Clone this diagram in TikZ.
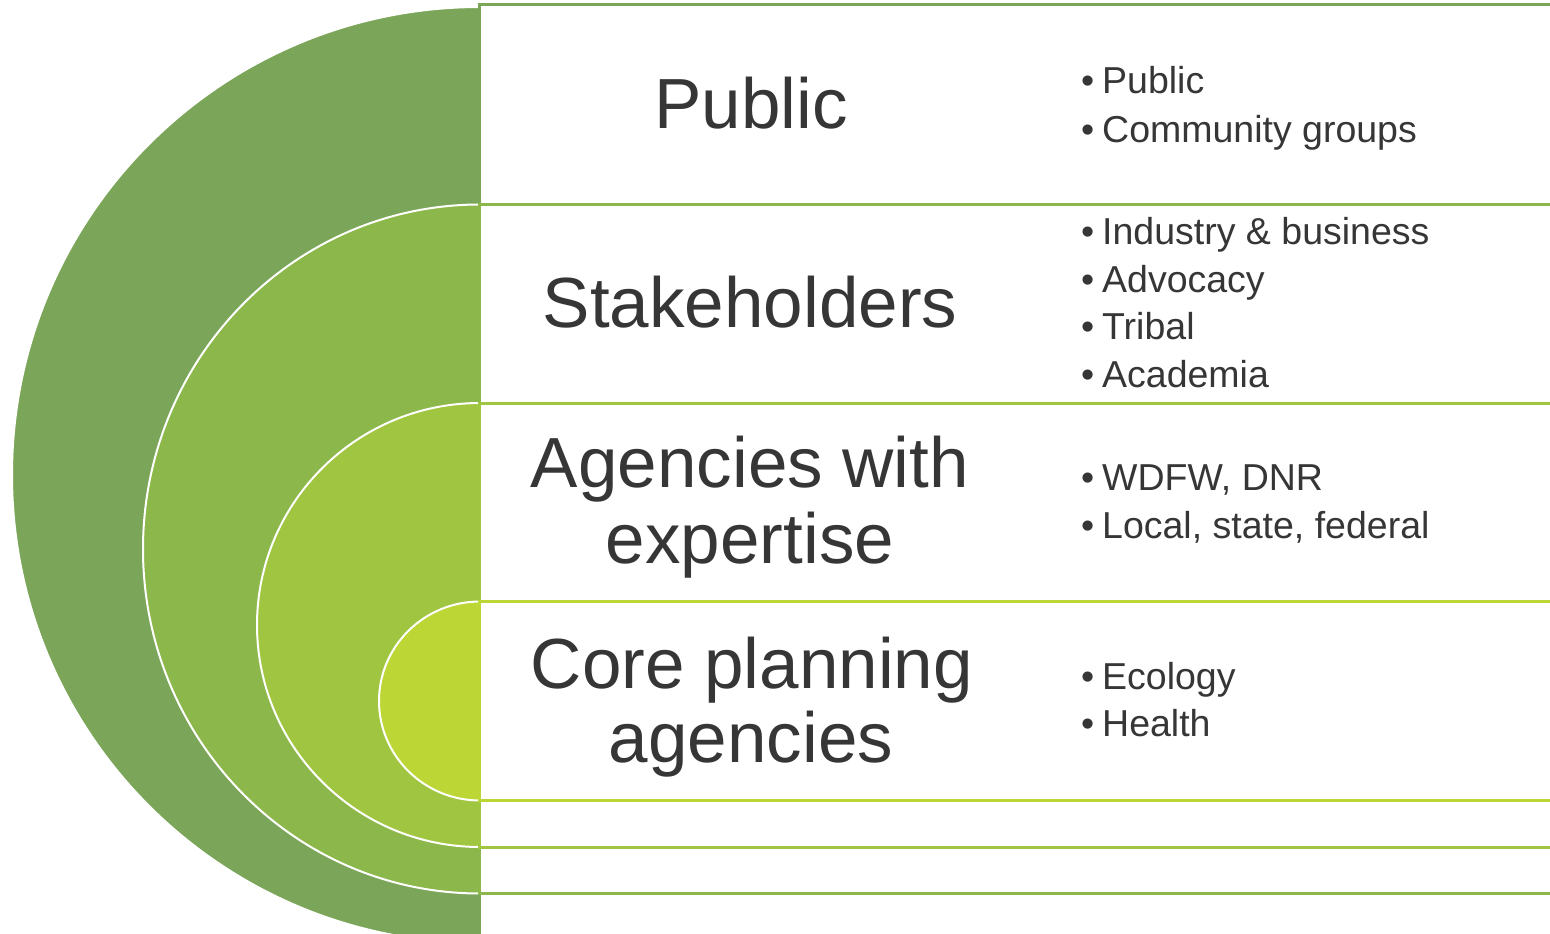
\documentclass[tikz,border=0pt]{standalone}
\usepackage{fontspec}
\setmainfont{Liberation Sans}
\definecolor{cA}{HTML}{7BA659}
\definecolor{cB}{HTML}{8CB74A}
\definecolor{cC}{HTML}{A0C540}
\definecolor{cD}{HTML}{BCD635}
\definecolor{txt}{HTML}{363636}
\tikzset{
  disk/.style={fill=#1},
  rim/.style={draw=white, line width=2pt},
  band/.style={draw=#1, fill=white, line width=3pt},
  mainlbl/.style={font=\fontsize{71}{76}\selectfont, text=txt, inner sep=0pt, anchor=base},
  item/.style={font=\fontsize{37.5}{45}\selectfont, text=txt, inner sep=0pt, anchor=base west}
}
\newcommand{\bul}{\makebox[21pt][l]{\textbullet}}
\begin{document}
\begin{tikzpicture}[x=1pt,y=-1pt]
\useasboundingbox (0,0) rectangle (1550,934);
\clip (0,0) rectangle (1550,934);
% half disks
\fill[disk=cA] (480,943) arc[start angle=90,end angle=270,radius=468] -- cycle;
\draw[rim] (480,943) arc[start angle=90,end angle=270,radius=468];
\fill[disk=cB] (480,893.5) arc[start angle=90,end angle=270,x radius=337,y radius=344.5] -- cycle;
\draw[rim] (480,893.5) arc[start angle=90,end angle=270,x radius=337,y radius=344.5];
\fill[disk=cC] (480,847) arc[start angle=90,end angle=270,x radius=223,y radius=222] -- cycle;
\draw[rim] (480,847) arc[start angle=90,end angle=270,x radius=223,y radius=222];
\fill[disk=cD] (480,800.5) arc[start angle=90,end angle=270,x radius=101,y radius=99.5] -- cycle;
\draw[rim] (480,800.5) arc[start angle=90,end angle=270,x radius=101,y radius=99.5];
% bands
\draw[band=cA] (479,5) rectangle (1565,960);
\draw[band=cB] (479,204) rectangle (1565,893);
\draw[band=cC] (479,403) rectangle (1565,847);
\draw[band=cD] (479,601) rectangle (1565,800);
% main labels
\node[mainlbl] (lpublic) at (751,128) {Public};
\node[mainlbl] (lstake) at (750,327) {Stakeholders};
\node[mainlbl] (lagency1) at (750,487) {Agencies with};
\node[mainlbl] (lagency2) at (750,563) {expertise};
\node[mainlbl] (lcore1) at (752,688) {Core planning};
\node[mainlbl] (lcore2) at (751,762) {agencies};
% bullet items
\node[item] (i1) at (1081,93) {\bul Public};
\node[item] (i2) at (1081,142) {\bul Community groups};
\node[item] (i3) at (1081,244) {\bul Industry \& business};
\node[item] (i4) at (1081,292) {\bul Advocacy};
\node[item] (i5) at (1081,339) {\bul Tribal};
\node[item] (i6) at (1081,387) {\bul Academia};
\node[item] (i7) at (1081,490) {\bul WDFW, DNR};
\node[item] (i8) at (1081,538) {\bul Local, state, federal};
\node[item] (i9) at (1081,689) {\bul Ecology};
\node[item] (i10) at (1081,736) {\bul Health};
\end{tikzpicture}
\end{document}
